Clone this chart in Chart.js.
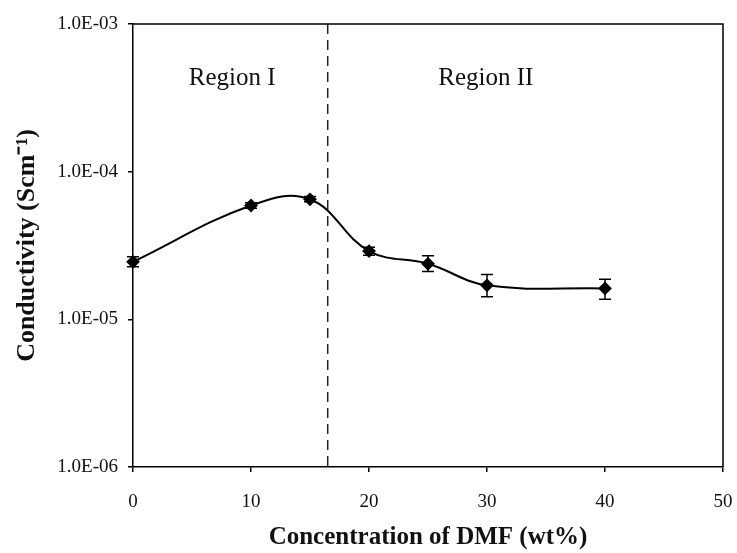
<!DOCTYPE html>
<html>
<head>
<meta charset="utf-8">
<script src="https://cdn.jsdelivr.net/npm/chart.js@4/dist/chart.umd.min.js"></script>
<style>
  html, body { margin: 0; padding: 0; background: #fff; }
  #wrap { width: 737px; height: 553px; }
</style>
</head>
<body>
<div id="wrap"><canvas id="c" width="737" height="553"></canvas></div>
<script>
// ---- data ----
const dmfConcentration = [0, 10, 15, 20, 25, 30, 40];
const conductivity     = [2.45e-5, 5.9e-5, 6.5e-5, 2.9e-5, 2.38e-5, 1.7e-5, 1.62e-5];
const errLow           = [2.27e-5, 5.65e-5, 6.25e-5, 2.72e-5, 2.11e-5, 1.42e-5, 1.37e-5];
const errHigh          = [2.65e-5, 6.15e-5, 6.8e-5, 3.08e-5, 2.7e-5, 2.01e-5, 1.87e-5];
const xTicks = [0, 10, 20, 30, 40, 50];
const yTicks = [1e-6, 1e-5, 1e-4, 1e-3];
const yTickLabels = ['1.0E-06', '1.0E-05', '1.0E-04', '1.0E-03'];
const regionBoundary = 16.5;
const regionNames = ['Region I', 'Region II'];
const regionCentersX = [8.4, 29.9];
const regionLabelY = 4.3e-4;

const SERIF = '"Liberation Serif", "Times New Roman", serif';

const points = dmfConcentration.map((x, i) => ({ x: x, y: conductivity[i] }));

const decorPlugin = {
  id: 'decor',
  beforeDatasetsDraw(chart) {
    const ctx = chart.ctx;
    const xs = chart.scales.x, ys = chart.scales.y;
    const area = chart.chartArea;
    ctx.save();
    // dashed region boundary
    const bx = xs.getPixelForValue(regionBoundary);
    ctx.strokeStyle = '#222';
    ctx.lineWidth = 1.5;
    ctx.setLineDash([10, 6]);
    ctx.beginPath();
    ctx.moveTo(bx, area.top);
    ctx.lineTo(bx, area.bottom);
    ctx.stroke();
    ctx.setLineDash([]);
    // region labels
    ctx.fillStyle = '#111';
    ctx.font = '25px ' + SERIF;
    ctx.textAlign = 'center';
    ctx.textBaseline = 'middle';
    regionNames.forEach((n, i) => {
      ctx.fillText(n, xs.getPixelForValue(regionCentersX[i]), ys.getPixelForValue(regionLabelY));
    });
    ctx.restore();
  },
  afterDatasetsDraw(chart) {
    const ctx = chart.ctx;
    const xs = chart.scales.x, ys = chart.scales.y;
    const area = chart.chartArea;
    ctx.save();
    // error bars
    ctx.strokeStyle = '#000';
    ctx.lineWidth = 1.5;
    dmfConcentration.forEach((x, i) => {
      const px = xs.getPixelForValue(x);
      const y1 = ys.getPixelForValue(errLow[i]);
      const y2 = ys.getPixelForValue(errHigh[i]);
      ctx.beginPath();
      ctx.moveTo(px, y1); ctx.lineTo(px, y2);
      ctx.moveTo(px - 6, y1); ctx.lineTo(px + 6, y1);
      ctx.moveTo(px - 6, y2); ctx.lineTo(px + 6, y2);
      ctx.stroke();
    });
    // frame (top and right)
    ctx.lineWidth = 1.5;
    ctx.strokeStyle = '#000';
    ctx.beginPath();
    ctx.moveTo(area.left, area.top);
    ctx.lineTo(area.right, area.top);
    ctx.lineTo(area.right, area.bottom);
    ctx.stroke();
    ctx.restore();
  }
};

new Chart(document.getElementById('c'), {
  type: 'line',
  data: {
    datasets: [{
      data: points,
      borderColor: '#000',
      backgroundColor: '#000',
      borderWidth: 2,
      tension: 0.4,
      pointStyle: 'rectRot',
      pointRadius: 5.5,
      pointBackgroundColor: '#000',
      pointBorderColor: '#000',
      fill: false,
      clip: false
    }]
  },
  plugins: [decorPlugin],
  options: {
    responsive: false,
    animation: false,
    events: [],
    layout: { padding: { left: 0, right: 14, top: 24, bottom: 0 } },
    plugins: { legend: { display: false }, tooltip: { enabled: false } },
    scales: {
      x: {
        type: 'linear',
        min: 0, max: 50,
        afterBuildTicks(s) { s.ticks = xTicks.map(v => ({ value: v })); },
        afterFit(s) { s.height = 86; s.paddingRight = 0; s.paddingLeft = 0; },
        ticks: { color: '#111', font: { family: SERIF, size: 19 }, padding: 19 },
        grid: { drawOnChartArea: false, drawTicks: true, tickLength: 5, color: '#000', lineWidth: 1.5 },
        border: { color: '#000', width: 1.5 },
        title: {
          display: true,
          text: 'Concentration of DMF (wt%)',
          color: '#111',
          font: { family: SERIF, size: 25, weight: 'bold' },
          padding: { top: 0, bottom: 0 }
        }
      },
      y: {
        type: 'logarithmic',
        min: 1e-6, max: 1e-3,
        afterBuildTicks(s) { s.ticks = yTicks.map(v => ({ value: v })); },
        afterFit(s) { s.width = 133; s.paddingTop = 0; s.paddingBottom = 0; },
        ticks: {
          color: '#111',
          font: { family: SERIF, size: 19 },
          padding: 10,
          callback: (v) => { const i = yTicks.indexOf(v); return i >= 0 ? yTickLabels[i] : ''; }
        },
        grid: { drawOnChartArea: false, drawTicks: true, tickLength: 5, color: '#000', lineWidth: 1.5 },
        border: { color: '#000', width: 1.5 },
        title: {
          display: true,
          text: 'Conductivity (Scm⁻¹)',
          color: '#111',
          font: { family: SERIF, size: 26, weight: 'bold' },
          padding: { top: 12, bottom: 0 }
        }
      }
    }
  }
});
</script>
</body>
</html>
